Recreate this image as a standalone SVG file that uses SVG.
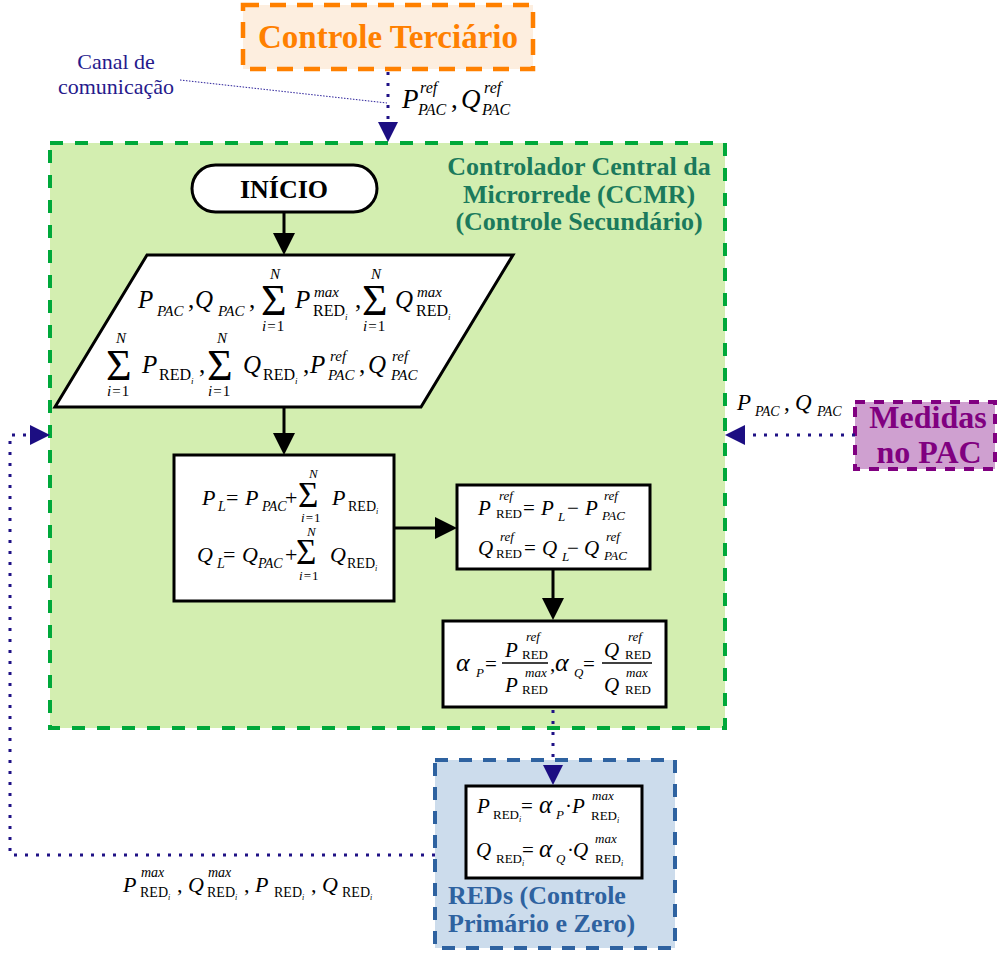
<svg xmlns="http://www.w3.org/2000/svg" width="998" height="956" viewBox="0 0 998 956">
  <style>
    .box { fill: #ffffff; stroke: #000000; stroke-width: 3; }
    .m { font-family: "Liberation Serif", "Times New Roman", serif; fill: #000000; }
    .i { font-style: italic; }
    .title { font-family: "Liberation Serif", "Times New Roman", serif; font-weight: bold; text-anchor: middle; }
    .flow { fill: none; stroke: #000000; stroke-width: 3; }
    .comm { fill: none; stroke: #1f1185; stroke-width: 3; stroke-dasharray: 3 8; }
    .bar { stroke: #000000; stroke-width: 1.3; }
  </style>
  <defs>
    <marker id="arrowBlack" viewBox="0 0 22 22" refX="0" refY="11" markerWidth="22" markerHeight="22" markerUnits="userSpaceOnUse" orient="auto">
      <path d="M0,0 L22,11 L0,22 z" fill="#000000"/>
    </marker>
    <marker id="arrowNavy" viewBox="0 0 20 20" refX="0" refY="10" markerWidth="20" markerHeight="20" markerUnits="userSpaceOnUse" orient="auto">
      <path d="M0,0 L20,10 L0,20 z" fill="#1c0e82"/>
    </marker>
  </defs>

  <!-- Tertiary control -->
  <g id="controle-terciario">
    <rect x="243" y="5" width="290" height="64" fill="#fdeedf" stroke="#ff8000" stroke-width="4.5" stroke-dasharray="16 11"/>
    <text class="title" x="388" y="48" font-size="33" fill="#ff8000">Controle Terciário</text>
  </g>

  <!-- Communication channel label -->
  <g id="canal">
    <text x="116" y="69" font-family="Liberation Serif, serif" font-size="22" fill="#261a8c" text-anchor="middle">Canal de</text>
    <text x="116" y="94" font-family="Liberation Serif, serif" font-size="22" fill="#261a8c" text-anchor="middle">comunicação</text>
  </g>

  <!-- Microgrid central controller -->
  <g id="ccmr">
    <rect x="50" y="143" width="675" height="585" fill="#d3eeb0" stroke="#00a83a" stroke-width="4" stroke-dasharray="13 12"/>
    <text class="title" x="579" y="175" font-size="26" fill="#1b7a5c">Controlador Central da</text>
    <text class="title" x="579" y="203" font-size="26" fill="#1b7a5c">Microrrede (CCMR)</text>
    <text class="title" x="579" y="230" font-size="26" fill="#1b7a5c">(Controle Secundário)</text>
  </g>

  <!-- PCC measurements -->
  <g id="medidas-pac">
    <rect x="855" y="402" width="140" height="67" fill="#cfa0d0" stroke="#800080" stroke-width="4" stroke-dasharray="10 9"/>
    <text class="title" x="928" y="428" font-size="32" fill="#800080">Medidas</text>
    <text class="title" x="929" y="463" font-size="32" fill="#800080">no PAC</text>
  </g>

  <!-- Distributed energy resources -->
  <g id="reds">
    <rect x="435" y="760" width="240" height="188" fill="#ccdcec" stroke="#2e62a0" stroke-width="4" stroke-dasharray="13 11"/>
    <text x="448" y="904" font-family="Liberation Serif, serif" font-weight="bold" font-size="26" fill="#2e62a0">REDs (Controle</text>
    <text x="448" y="932" font-family="Liberation Serif, serif" font-weight="bold" font-size="26" fill="#2e62a0">Primário e Zero)</text>
  </g>

  <!-- Start terminal -->
  <g id="inicio">
    <rect x="192" y="165" width="185" height="47" rx="23.5" class="box"/>
    <text class="title" x="284" y="198" font-size="26" fill="#000000">INÍCIO</text>
  </g>

  <!-- Input data -->
  <g id="entrada">
    <polygon points="147,255 513,255 421,407 55,407" class="box"/>
    <text class="m" font-size="25">
      <tspan class="i" x="138" y="308">P</tspan>
      <tspan class="i" x="157" y="316" font-size="15">PAC</tspan>
      <tspan x="188" y="308">,</tspan>
      <tspan class="i" x="195" y="308">Q</tspan>
      <tspan class="i" x="218" y="316" font-size="15">PAC</tspan>
      <tspan x="249" y="308">,</tspan>
      <tspan x="261" y="315" font-size="44">Σ</tspan>
      <tspan class="i" x="270" y="279" font-size="15">N</tspan>
      <tspan x="262" y="331" font-size="15" letter-spacing="1"><tspan class="i">i</tspan>=1</tspan>
      <tspan class="i" x="295" y="308">P</tspan>
      <tspan class="i" x="314" y="297" font-size="15">max</tspan>
      <tspan x="313" y="316" font-size="16">RED<tspan class="i" font-size="9" dy="4">i</tspan></tspan>
      <tspan x="355" y="308">,</tspan>
      <tspan x="362" y="315" font-size="44">Σ</tspan>
      <tspan class="i" x="371" y="279" font-size="15">N</tspan>
      <tspan x="363" y="331" font-size="15" letter-spacing="1"><tspan class="i">i</tspan>=1</tspan>
      <tspan class="i" x="395" y="308">Q</tspan>
      <tspan class="i" x="417" y="297" font-size="15">max</tspan>
      <tspan x="416" y="316" font-size="16">RED<tspan class="i" font-size="9" dy="4">i</tspan></tspan>
    </text>
    <text class="m" font-size="25">
      <tspan x="106" y="380" font-size="44">Σ</tspan>
      <tspan class="i" x="116" y="343" font-size="15">N</tspan>
      <tspan x="107" y="396" font-size="15" letter-spacing="1"><tspan class="i">i</tspan>=1</tspan>
      <tspan class="i" x="142" y="373">P</tspan>
      <tspan x="159" y="380" font-size="16">RED<tspan class="i" font-size="9" dy="4">i</tspan></tspan>
      <tspan x="199" y="373">,</tspan>
      <tspan x="207" y="380" font-size="44">Σ</tspan>
      <tspan class="i" x="217" y="343" font-size="15">N</tspan>
      <tspan x="208" y="396" font-size="15" letter-spacing="1"><tspan class="i">i</tspan>=1</tspan>
      <tspan class="i" x="243" y="373">Q</tspan>
      <tspan x="263" y="380" font-size="16">RED<tspan class="i" font-size="9" dy="4">i</tspan></tspan>
      <tspan x="303" y="373">,</tspan>
      <tspan class="i" x="310" y="373">P</tspan>
      <tspan class="i" x="330" y="361" font-size="15">ref</tspan>
      <tspan class="i" x="328" y="380" font-size="15">PAC</tspan>
      <tspan x="359" y="373">,</tspan>
      <tspan class="i" x="368" y="373">Q</tspan>
      <tspan class="i" x="392" y="361" font-size="15">ref</tspan>
      <tspan class="i" x="391" y="380" font-size="15">PAC</tspan>
    </text>
  </g>

  <!-- Load computation -->
  <g id="carga">
    <rect x="174" y="455" width="220" height="146" class="box"/>
    <text class="m" font-size="22">
      <tspan class="i" x="202" y="505">P</tspan>
      <tspan class="i" x="218" y="511" font-size="14">L</tspan>
      <tspan x="226" y="505">=</tspan>
      <tspan class="i" x="245" y="505">P</tspan>
      <tspan class="i" x="262" y="511" font-size="14">PAC</tspan>
      <tspan x="285" y="505">+</tspan>
      <tspan x="298" y="507" font-size="35">Σ</tspan>
      <tspan class="i" x="309" y="478" font-size="13">N</tspan>
      <tspan x="301" y="522" font-size="13" letter-spacing="1"><tspan class="i">i</tspan>=1</tspan>
      <tspan class="i" x="332" y="505">P</tspan>
      <tspan x="348" y="511" font-size="14">RED<tspan class="i" font-size="8" dy="3">i</tspan></tspan>
    </text>
    <text class="m" font-size="22">
      <tspan class="i" x="197" y="562">Q</tspan>
      <tspan class="i" x="217" y="568" font-size="14">L</tspan>
      <tspan x="223" y="562">=</tspan>
      <tspan class="i" x="242" y="562">Q</tspan>
      <tspan class="i" x="258" y="568" font-size="14">PAC</tspan>
      <tspan x="285" y="562">+</tspan>
      <tspan x="296" y="564" font-size="35">Σ</tspan>
      <tspan class="i" x="307" y="536" font-size="13">N</tspan>
      <tspan x="299" y="580" font-size="13" letter-spacing="1"><tspan class="i">i</tspan>=1</tspan>
      <tspan class="i" x="330" y="562">Q</tspan>
      <tspan x="347" y="568" font-size="14">RED<tspan class="i" font-size="8" dy="3">i</tspan></tspan>
    </text>
  </g>

  <!-- Reference powers -->
  <g id="referencias">
    <rect x="457" y="485" width="193" height="84" class="box"/>
    <text class="m" font-size="21">
      <tspan class="i" x="478" y="515">P</tspan>
      <tspan class="i" x="499" y="500" font-size="13">ref</tspan>
      <tspan x="496" y="518" font-size="13">RED</tspan>
      <tspan x="523" y="515">=</tspan>
      <tspan class="i" x="541" y="515">P</tspan>
      <tspan class="i" x="558" y="521" font-size="13">L</tspan>
      <tspan x="567" y="515">−</tspan>
      <tspan class="i" x="585" y="515">P</tspan>
      <tspan class="i" x="604" y="500" font-size="13">ref</tspan>
      <tspan class="i" x="602" y="520" font-size="13">PAC</tspan>
    </text>
    <text class="m" font-size="21">
      <tspan class="i" x="478" y="555">Q</tspan>
      <tspan class="i" x="500" y="541" font-size="13">ref</tspan>
      <tspan x="496" y="558" font-size="13">RED</tspan>
      <tspan x="524" y="555">=</tspan>
      <tspan class="i" x="542" y="555">Q</tspan>
      <tspan class="i" x="562" y="561" font-size="13">L</tspan>
      <tspan x="567" y="555">−</tspan>
      <tspan class="i" x="584" y="555">Q</tspan>
      <tspan class="i" x="606" y="541" font-size="13">ref</tspan>
      <tspan class="i" x="604" y="560" font-size="13">PAC</tspan>
    </text>
  </g>

  <!-- Participation factors -->
  <g id="fatores">
    <rect x="443" y="621" width="223" height="86" class="box"/>
    <line class="bar" x1="502" y1="663" x2="548" y2="663"/>
    <line class="bar" x1="602" y1="663" x2="652" y2="663"/>
    <text class="m" font-size="21">
      <tspan class="i" x="456" y="671" font-size="26">α</tspan>
      <tspan class="i" x="476" y="677" font-size="13">P</tspan>
      <tspan x="485" y="671">=</tspan>
      <tspan class="i" x="505" y="657">P</tspan>
      <tspan class="i" x="526" y="641" font-size="13">ref</tspan>
      <tspan x="522" y="659" font-size="13">RED</tspan>
      <tspan class="i" x="505" y="692">P</tspan>
      <tspan class="i" x="525" y="677" font-size="13">max</tspan>
      <tspan x="522" y="694" font-size="13">RED</tspan>
      <tspan x="550" y="671">,</tspan>
      <tspan class="i" x="555" y="671" font-size="26">α</tspan>
      <tspan class="i" x="574" y="677" font-size="13">Q</tspan>
      <tspan x="583" y="671">=</tspan>
      <tspan class="i" x="604" y="657">Q</tspan>
      <tspan class="i" x="628" y="641" font-size="13">ref</tspan>
      <tspan x="625" y="659" font-size="13">RED</tspan>
      <tspan class="i" x="604" y="692">Q</tspan>
      <tspan class="i" x="626" y="677" font-size="13">max</tspan>
      <tspan x="625" y="694" font-size="13">RED</tspan>
    </text>
  </g>

  <!-- Local power setpoints -->
  <g id="setpoints-red">
    <rect x="466" y="786" width="176" height="92" class="box"/>
    <text class="m" font-size="21">
      <tspan class="i" x="477" y="813">P</tspan>
      <tspan x="493" y="819" font-size="13">RED<tspan class="i" font-size="8" dy="3">i</tspan></tspan>
      <tspan x="521" y="813">=</tspan>
      <tspan class="i" x="539" y="813" font-size="25">α</tspan>
      <tspan class="i" x="556" y="819" font-size="13">P</tspan>
      <tspan x="565" y="813">·</tspan>
      <tspan class="i" x="572" y="813">P</tspan>
      <tspan class="i" x="592" y="800" font-size="13">max</tspan>
      <tspan x="591" y="820" font-size="13">RED<tspan class="i" font-size="8" dy="3">i</tspan></tspan>
    </text>
    <text class="m" font-size="21">
      <tspan class="i" x="476" y="857">Q</tspan>
      <tspan x="496" y="863" font-size="13">RED<tspan class="i" font-size="8" dy="3">i</tspan></tspan>
      <tspan x="522" y="857">=</tspan>
      <tspan class="i" x="539" y="857" font-size="25">α</tspan>
      <tspan class="i" x="556" y="863" font-size="13">Q</tspan>
      <tspan x="567" y="857">·</tspan>
      <tspan class="i" x="573" y="857">Q</tspan>
      <tspan class="i" x="595" y="843" font-size="13">max</tspan>
      <tspan x="595" y="863" font-size="13">RED<tspan class="i" font-size="8" dy="3">i</tspan></tspan>
    </text>
  </g>

  <!-- Connectors -->
  <g id="conectores">
    <path class="flow" d="M284,212 L284,233" marker-end="url(#arrowBlack)"/>
    <path class="flow" d="M284,407 L284,433" marker-end="url(#arrowBlack)"/>
    <path class="flow" d="M394,528 L435,528" marker-end="url(#arrowBlack)"/>
    <path class="flow" d="M553,569 L553,598" marker-end="url(#arrowBlack)"/>
    <path class="comm" d="M388,72 L388,122" marker-end="url(#arrowNavy)"/>
    <path class="comm" d="M553,710 L553,765" marker-end="url(#arrowNavy)"/>
    <path class="comm" d="M855,435 L745,435" marker-end="url(#arrowNavy)"/>
    <path class="comm" d="M435,855 L10,855 L10,435 L30,435" marker-end="url(#arrowNavy)"/>
    <path d="M180,80 L387,103" fill="none" stroke="#2a1f9a" stroke-width="1" stroke-dasharray="1.5 1.5"/>
  </g>

  <!-- Connector labels -->
  <g id="rotulos">
    <text class="m" font-size="27">
      <tspan class="i" x="402" y="108">P</tspan>
      <tspan class="i" x="420" y="93" font-size="16">ref</tspan>
      <tspan class="i" x="418" y="115" font-size="16">PAC</tspan>
      <tspan x="451" y="108">,</tspan>
      <tspan class="i" x="461" y="108">Q</tspan>
      <tspan class="i" x="484" y="93" font-size="16">ref</tspan>
      <tspan class="i" x="482" y="115" font-size="16">PAC</tspan>
    </text>
    <text class="m" font-size="23">
      <tspan class="i" x="737" y="410">P</tspan>
      <tspan class="i" x="755" y="416" font-size="14">PAC</tspan>
      <tspan x="784" y="410">,</tspan>
      <tspan class="i" x="795" y="410">Q</tspan>
      <tspan class="i" x="817" y="416" font-size="14">PAC</tspan>
    </text>
    <text class="m" font-size="22">
      <tspan class="i" x="123" y="892">P</tspan>
      <tspan class="i" x="141" y="877" font-size="14">max</tspan>
      <tspan x="140" y="897" font-size="14">RED<tspan class="i" font-size="8" dy="3">i</tspan></tspan>
      <tspan x="177" y="892">,</tspan>
      <tspan class="i" x="188" y="892">Q</tspan>
      <tspan class="i" x="208" y="877" font-size="14">max</tspan>
      <tspan x="207" y="897" font-size="14">RED<tspan class="i" font-size="8" dy="3">i</tspan></tspan>
      <tspan x="244" y="892">,</tspan>
      <tspan class="i" x="255" y="892">P</tspan>
      <tspan x="274" y="897" font-size="14">RED<tspan class="i" font-size="8" dy="3">i</tspan></tspan>
      <tspan x="311" y="892">,</tspan>
      <tspan class="i" x="322" y="892">Q</tspan>
      <tspan x="342" y="897" font-size="14">RED<tspan class="i" font-size="8" dy="3">i</tspan></tspan>
    </text>
  </g>
</svg>
